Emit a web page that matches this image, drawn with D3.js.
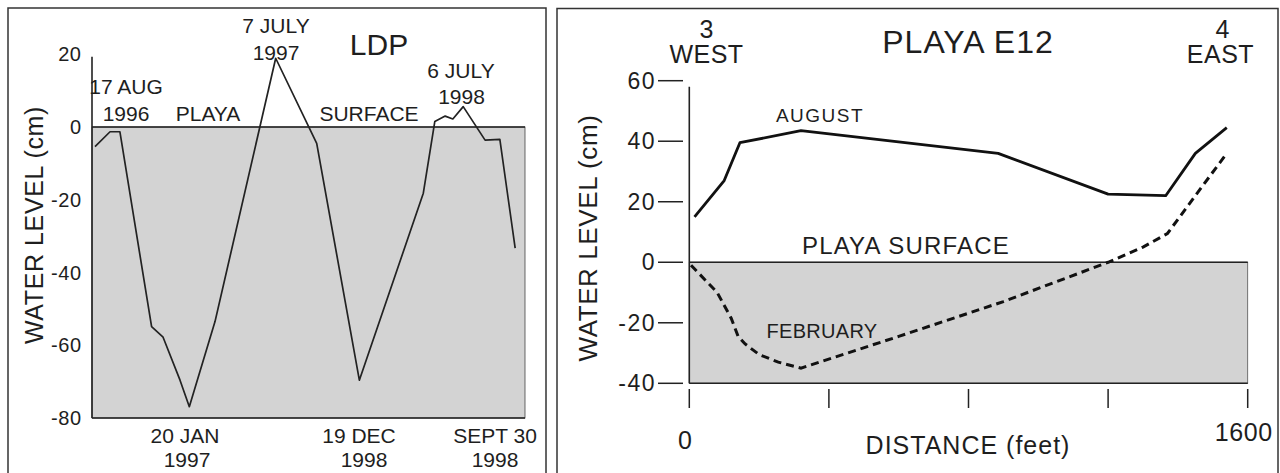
<!DOCTYPE html>
<html>
<head>
<meta charset="utf-8">
<script src="https://cdn.jsdelivr.net/npm/d3@7"></script>
<style>
  html, body { margin: 0; padding: 0; background: #fff; }
  svg { display: block; font-family: "Liberation Sans", Arial, Helvetica, sans-serif; }
  text { fill: #1e1e1e; }
</style>
</head>
<body>
<svg id="chart" width="1280" height="473"></svg>
<script>
// ---------- DATA: LDP (left panel) ----------
// x = days since start of record (17 Aug 1996), y = water level (cm)
const ldpDays   = [5.5, 33, 51, 109, 130, 161, 178, 225, 336, 411, 489, 606, 627, 646, 660, 679, 719, 746, 774];
const ldpLevels = [-5.4, -1.3, -1.3, -54.9, -57.8, -69.6, -76.9, -53.5, 18.9, -4.5, -69.6, -18.2, 1.5, 3.0, 2.2, 5.6, -3.6, -3.4, -33.3];
const ldpYTicks = [20, 0, -20, -40, -60, -80];

// ---------- DATA: PLAYA E12 (right panel) ----------
const augDistance = [15, 100, 145, 320, 885, 1200, 1365, 1450, 1540];
const augLevel    = [15, 27, 39.5, 43.5, 36, 22.5, 22, 36, 44.5];
const febDistance = [5, 80, 120, 140, 160, 200, 255, 320, 600, 900, 1200, 1300, 1370, 1450, 1540];
const febLevel    = [-1, -10, -18.5, -24.5, -27, -30.5, -33, -35, -24.5, -13, 0, 5, 9.5, 22, 36];
const e12YTicks   = [60, 40, 20, 0, -20, -40];
const e12XTicks   = [0, 400, 800, 1200, 1600];
const e12XLabels  = ["0", "", "", "", "1600"];

const svg = d3.select("#chart");
const ink = "#222";
const fillGray = "#d3d3d3";

// ---------- frames ----------
svg.append("rect").attr("x", 8).attr("y", 8).attr("width", 538).attr("height", 500)
  .attr("fill", "none").attr("stroke", "#333").attr("stroke-width", 1.5);
svg.append("rect").attr("x", 557).attr("y", 8.5).attr("width", 721).attr("height", 500)
  .attr("fill", "none").attr("stroke", "#333").attr("stroke-width", 1.5);

// =============== LEFT PANEL: LDP ===============
const xL = d3.scaleLinear().domain([0, 792]).range([92, 525]);
const yL = d3.scaleLinear().domain([-80, 20]).range([418, 54.25]);

// playa (below surface) shaded area
svg.append("rect")
  .attr("x", xL(0)).attr("y", yL(0))
  .attr("width", xL(792) - xL(0)).attr("height", yL(-80) - yL(0))
  .attr("fill", fillGray).attr("stroke", "#444").attr("stroke-width", 0.8);
// surface line & bottom line
svg.append("line").attr("x1", xL(0)).attr("x2", xL(792)).attr("y1", yL(0)).attr("y2", yL(0))
  .attr("stroke", ink).attr("stroke-width", 1.6);
svg.append("line").attr("x1", xL(0)).attr("x2", xL(792)).attr("y1", yL(-80)).attr("y2", yL(-80))
  .attr("stroke", ink).attr("stroke-width", 1.6);
// y axis line
svg.append("line").attr("x1", xL(0)).attr("x2", xL(0)).attr("y1", yL(19.3)).attr("y2", yL(-80))
  .attr("stroke", ink).attr("stroke-width", 1.6);

// y tick labels
svg.append("g").selectAll("text").data(ldpYTicks).join("text")
  .attr("x", 81.5).attr("y", d => yL(d)).attr("dy", "0.35em")
  .attr("text-anchor", "end").attr("font-size", 20).attr("letter-spacing", 0.5)
  .text(d => d);

// axis title
svg.append("text").attr("transform", `translate(43,225) rotate(-90)`)
  .attr("text-anchor", "middle").attr("font-size", 25).attr("letter-spacing", 0.6)
  .text("WATER LEVEL (cm)");

// water-level line
const ldpData = ldpDays.map((d, i) => ({ x: d, y: ldpLevels[i] }));
svg.append("path").datum(ldpData)
  .attr("fill", "none").attr("stroke", ink).attr("stroke-width", 1.7).attr("stroke-linejoin", "round")
  .attr("d", d3.line().x(d => xL(d.x)).y(d => yL(d.y)));

// annotations
const leftLabels = [
  { t: "LDP", x: 379, y: 55, s: 30, a: "middle" },
  { t: "7 JULY", x: 276, y: 33, s: 21, a: "middle" },
  { t: "1997", x: 276, y: 59.5, s: 21, a: "middle" },
  { t: "17 AUG", x: 126, y: 94, s: 21, a: "middle" },
  { t: "1996", x: 126, y: 120.5, s: 21, a: "middle" },
  { t: "PLAYA", x: 208, y: 120.5, s: 21, a: "middle" },
  { t: "SURFACE", x: 369, y: 120.5, s: 21, a: "middle" },
  { t: "6 JULY", x: 461, y: 78, s: 21, a: "middle" },
  { t: "1998", x: 461.5, y: 104, s: 21, a: "middle" },
  { t: "20 JAN", x: 185, y: 442.5, s: 21, a: "middle" },
  { t: "1997", x: 187, y: 467, s: 21, a: "middle" },
  { t: "19 DEC", x: 359, y: 442.5, s: 21, a: "middle" },
  { t: "1998", x: 364, y: 467, s: 21, a: "middle" },
  { t: "SEPT 30", x: 495, y: 442.5, s: 21, a: "middle" },
  { t: "1998", x: 495, y: 467, s: 21, a: "middle" }
];
svg.append("g").selectAll("text").data(leftLabels).join("text")
  .attr("x", d => d.x).attr("y", d => d.y).attr("font-size", d => d.s)
  .attr("text-anchor", d => d.a).text(d => d.t);

// =============== RIGHT PANEL: PLAYA E12 ===============
const xR = d3.scaleLinear().domain([0, 1600]).range([689.3, 1247.7]);
const yR = d3.scaleLinear().domain([-40, 60]).range([383.3, 80.7]);

// shaded playa
svg.append("rect")
  .attr("x", xR(0)).attr("y", yR(0))
  .attr("width", xR(1600) - xR(0)).attr("height", yR(-40) - yR(0))
  .attr("fill", fillGray).attr("stroke", "#555").attr("stroke-width", 0.8);
svg.append("line").attr("x1", xR(0)).attr("x2", xR(1600)).attr("y1", yR(0)).attr("y2", yR(0))
  .attr("stroke", ink).attr("stroke-width", 1.5);
svg.append("line").attr("x1", xR(0)).attr("x2", xR(1600)).attr("y1", yR(-40)).attr("y2", yR(-40))
  .attr("stroke", ink).attr("stroke-width", 1.6);
// y axis line
svg.append("line").attr("x1", xR(0)).attr("x2", xR(0)).attr("y1", yR(58)).attr("y2", yR(-40))
  .attr("stroke", ink).attr("stroke-width", 1.6);

// y ticks (detached from axis)
const gy = svg.append("g");
gy.selectAll("line").data(e12YTicks).join("line")
  .attr("x1", 658).attr("x2", 683).attr("y1", d => yR(d)).attr("y2", d => yR(d))
  .attr("stroke", ink).attr("stroke-width", 1.5);
gy.selectAll("text").data(e12YTicks).join("text")
  .attr("x", 656).attr("y", d => yR(d)).attr("dy", "0.35em")
  .attr("text-anchor", "end").attr("font-size", 23).attr("letter-spacing", 1.5)
  .text(d => d);

// x ticks
const gx = svg.append("g");
gx.selectAll("line").data(e12XTicks).join("line")
  .attr("x1", d => xR(d)).attr("x2", d => xR(d)).attr("y1", 389).attr("y2", 408)
  .attr("stroke", ink).attr("stroke-width", 1.5);
gx.selectAll("text").data(e12XTicks).join("text")
  .attr("x", d => xR(d) - 4)
  .attr("y", (d, i) => i === 0 ? 449 : 441)
  .attr("text-anchor", "middle").attr("font-size", 25).attr("letter-spacing", 0.6)
  .text((d, i) => e12XLabels[i]);

// titles
svg.append("text").attr("transform", `translate(597,238) rotate(-90)`)
  .attr("text-anchor", "middle").attr("font-size", 26).attr("letter-spacing", 0.6)
  .text("WATER LEVEL (cm)");
svg.append("text").attr("x", 968).attr("y", 454).attr("text-anchor", "middle")
  .attr("font-size", 25).attr("letter-spacing", 1).text("DISTANCE (feet)");

const rightLabels = [
  { t: "PLAYA E12", x: 968, y: 52.7, s: 32, ls: 1 },
  { t: "3", x: 706.5, y: 37.5, s: 25, ls: 0 },
  { t: "WEST", x: 706.5, y: 63, s: 25, ls: 0.5 },
  { t: "4", x: 1222.5, y: 37.5, s: 25, ls: 0 },
  { t: "EAST", x: 1220.5, y: 63, s: 25, ls: 0.5 },
  { t: "AUGUST", x: 820, y: 122.3, s: 19, ls: 1.5 },
  { t: "PLAYA SURFACE", x: 906, y: 254, s: 24, ls: 1.2 },
  { t: "FEBRUARY", x: 822, y: 338, s: 20, ls: 0.3 }
];
svg.append("g").selectAll("text").data(rightLabels).join("text")
  .attr("x", d => d.x).attr("y", d => d.y).attr("font-size", d => d.s)
  .attr("letter-spacing", d => d.ls).attr("text-anchor", "middle").text(d => d.t);

// series
const lineR = d3.line().x(d => xR(d.x)).y(d => yR(d.y));
const augData = augDistance.map((d, i) => ({ x: d, y: augLevel[i] }));
const febData = febDistance.map((d, i) => ({ x: d, y: febLevel[i] }));
svg.append("path").datum(augData)
  .attr("fill", "none").attr("stroke", "#111").attr("stroke-width", 2.8).attr("stroke-linejoin", "round")
  .attr("d", lineR);
svg.append("path").datum(febData)
  .attr("fill", "none").attr("stroke", "#111").attr("stroke-width", 3).attr("stroke-dasharray", "8,5")
  .attr("d", lineR);
</script>
</body>
</html>
